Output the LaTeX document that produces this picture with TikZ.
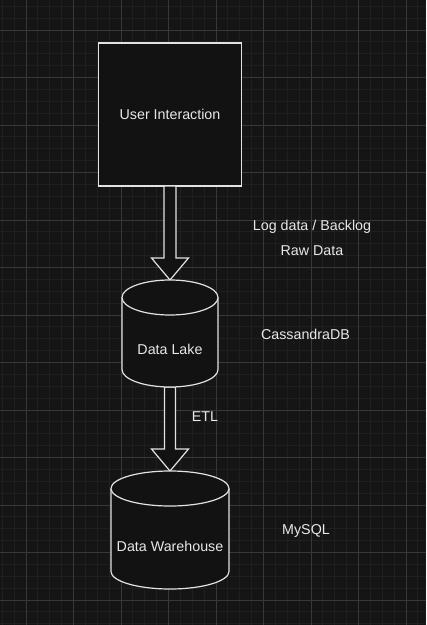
\documentclass[tikz,border=0pt]{standalone}
\usepackage{fontspec}
\setmainfont{Liberation Sans}
\usetikzlibrary{calc}
\definecolor{bgc}{HTML}{151515}
\definecolor{fillc}{HTML}{121212}
\definecolor{minorc}{HTML}{1F1F1F}
\definecolor{majorc}{HTML}{383838}
\definecolor{strokec}{HTML}{E2E2E2}
\definecolor{textc}{HTML}{E8E8E8}
\newcommand{\cylshape}[5]{%
  \filldraw[shapestyle] ({#1-#4},{#2+#5}) -- ({#1-#4},{#3-#5})
    .. controls ({#1-#4},{#3-#5+0.5523*#5}) and ({#1-0.5523*#4},{#3}) .. ({#1},{#3})
    .. controls ({#1+0.5523*#4},{#3}) and ({#1+#4},{#3-#5+0.5523*#5}) .. ({#1+#4},{#3-#5})
    -- ({#1+#4},{#2+#5})
    .. controls ({#1+#4},{#2+#5-0.5523*#5}) and ({#1+0.5523*#4},{#2}) .. ({#1},{#2})
    .. controls ({#1-0.5523*#4},{#2}) and ({#1-#4},{#2+#5-0.5523*#5}) .. cycle;
  \draw[shapestyle] ({#1-#4},{#2+#5})
    .. controls ({#1-#4},{#2+#5+0.5523*#5}) and ({#1-0.5523*#4},{#2+2*#5}) .. ({#1},{#2+2*#5})
    .. controls ({#1+0.5523*#4},{#2+2*#5}) and ({#1+#4},{#2+#5+0.5523*#5}) .. ({#1+#4},{#2+#5});
}
\begin{document}
\begin{tikzpicture}[x=0.75pt,y=-0.75pt,
  shapestyle/.style={draw=strokec,fill=fillc,line width=0.9pt,line join=round},
  txt/.style={text=textc,font=\fontsize{10.7}{12.8}\selectfont,inner sep=0pt},
  area/.style={inner sep=0pt,outer sep=0pt},
  flexarrow/.style={draw=strokec,fill=fillc,line width=0.9pt,line join=miter},
  minorline/.style={draw=minorc,line width=0.6pt},
  majorline/.style={draw=majorc,line width=0.75pt}]
\useasboundingbox (0,0) rectangle (426,625);
\clip (0,0) rectangle (426,625);
\fill[bgc] (0,0) rectangle (426,625);
% grid
\foreach \i in {-2,...,34} {\draw[minorline] ({26+\i*11.875},0) -- ({26+\i*11.875},625);}
\foreach \j in {-2,...,50} {\draw[minorline] (0,{30+\j*11.875}) -- (426,{30+\j*11.875});}
\foreach \i in {-1,...,8} {\draw[majorline] ({26+\i*47.5},0) -- ({26+\i*47.5},625);}
\foreach \j in {-1,...,12} {\draw[majorline] (0,{30+\j*47.5}) -- (426,{30+\j*47.5});}
% nodes
\node[area,draw=strokec,fill=fillc,line width=0.9pt,minimum width=107.25pt,minimum height=107.25pt] (ui) at (170,114.5) {};
\node[txt] (uitxt) at (ui.center) {User Interaction};
\node[area,minimum width=72pt,minimum height=80.25pt] (lake) at (170,333.5) {};
\node[area,minimum width=88.5pt,minimum height=88.5pt] (wh) at (170,530) {};
% connectors
\draw[flexarrow] ($(ui.south)+(-6,0)$) -- ($(lake.north)+(-6,-22)$) -- ($(lake.north)+(-18.5,-22)$)
  -- (lake.north) -- ($(lake.north)+(18.5,-22)$) -- ($(lake.north)+(6,-22)$) -- ($(ui.south)+(6,0)$) -- cycle;
\draw[flexarrow] ($(lake.south)+(-5.5,0)$) -- ($(wh.north)+(-5.5,-22)$) -- ($(wh.north)+(-18.5,-22)$)
  -- (wh.north) -- ($(wh.north)+(18.5,-22)$) -- ($(wh.north)+(5.5,-22)$) -- ($(lake.south)+(5.5,0)$) -- cycle;
% cylinders
\cylshape{170}{280}{387}{48}{17.5}
\cylshape{170}{471}{589}{59}{17.5}
\node[txt] (laketxt) at (170,349) {Data Lake};
\node[txt] (whtxt) at (170,546) {Data Warehouse};
% labels
\node[txt] (lbl1) at (312,227) {Log data / Backlog};
\node[txt] (lbl2) at (312,251) {Raw Data};
\node[txt] (lbl3) at (305.5,334) {CassandraDB};
\node[txt] (etl) at (205,417) {ETL};
\node[txt] (mysql) at (306,530.5) {MySQL};
\end{tikzpicture}
\end{document}
